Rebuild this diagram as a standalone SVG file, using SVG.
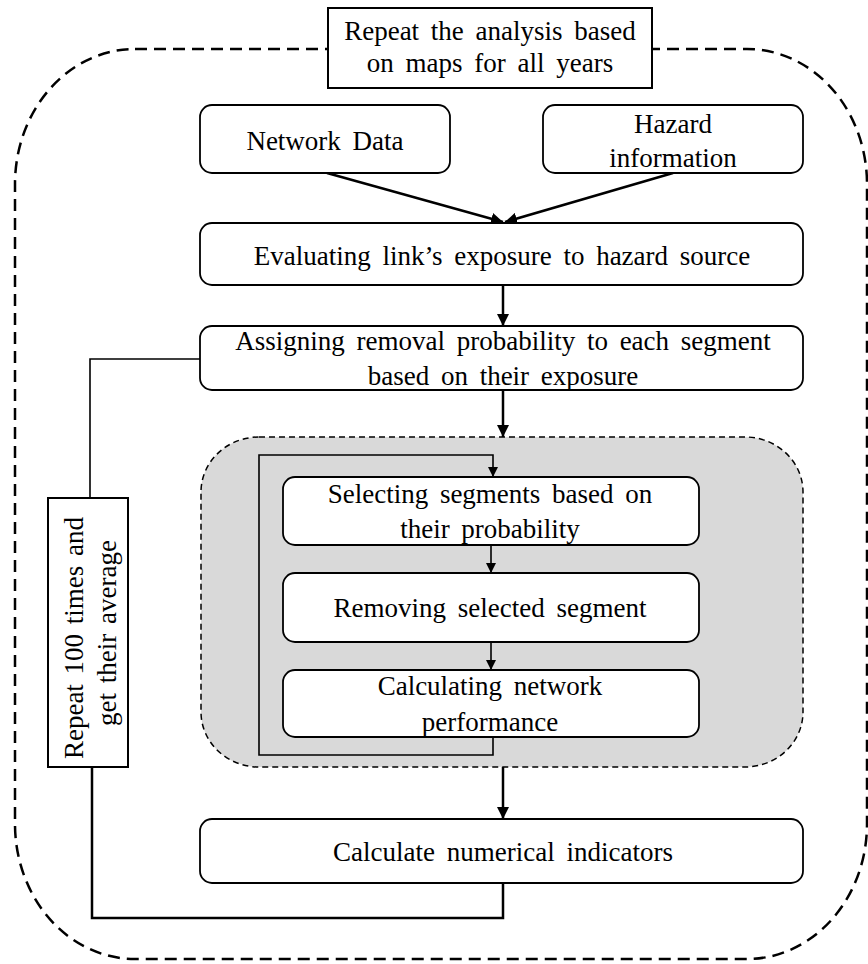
<svg xmlns="http://www.w3.org/2000/svg" width="868" height="964" viewBox="0 0 868 964">
  <style>
    .box { fill: #ffffff; stroke: #000000; stroke-width: 1.8; }
    .lbl { font-family: "Liberation Serif", "Times New Roman", serif; font-size: 27px; fill: #000000; text-anchor: middle; word-spacing: 5px; }
    .con { fill: none; stroke: #000000; stroke-width: 2.5; }
    .thin { fill: none; stroke: #000000; stroke-width: 1.6; }
  </style>
  <defs>
    <marker id="ah" markerUnits="userSpaceOnUse" markerWidth="12" markerHeight="12" refX="12" refY="6" orient="auto">
      <path d="M0,0 L12,6 L0,12 z" fill="#000000"/>
    </marker>
    <marker id="ahs" markerUnits="userSpaceOnUse" markerWidth="10" markerHeight="10" refX="10" refY="5" orient="auto">
      <path d="M0,0 L10,5 L0,10 z" fill="#000000"/>
    </marker>
  </defs>

  <g id="outer-loop">
    <rect x="15" y="49" width="852" height="910" rx="120" ry="135" fill="none" stroke="#000000" stroke-width="2.5" stroke-dasharray="12 7"/>
  </g>

  <g id="inner-loop">
    <rect x="201" y="437" width="602" height="330" rx="58" ry="55" fill="#d9d9d9" stroke="#000000" stroke-width="1.5" stroke-dasharray="6 4"/>
  </g>

  <g id="connectors">
    <line class="con" x1="327" y1="173" x2="503" y2="222" marker-end="url(#ah)"/>
    <line class="con" x1="673" y1="173" x2="505" y2="222" marker-end="url(#ah)"/>
    <line class="con" x1="503" y1="285" x2="503" y2="326" marker-end="url(#ah)"/>
    <line class="con" x1="503" y1="390" x2="503" y2="437" marker-end="url(#ah)"/>
    <path class="thin" d="M493,737 V755 H259 V455 H493 V477" marker-end="url(#ahs)"/>
    <line class="thin" x1="491" y1="545" x2="491" y2="573" marker-end="url(#ahs)"/>
    <line class="thin" x1="491" y1="642" x2="491" y2="670" marker-end="url(#ahs)"/>
    <line class="con" x1="503" y1="767" x2="503" y2="819" marker-end="url(#ah)"/>
    <path class="thin" d="M200,359 H90 V498" stroke-width="2"/>
    <path class="con" d="M503,883 V918 H92 V767"/>
  </g>

  <g id="title">
    <rect x="328" y="8" width="324" height="80" fill="#ffffff" stroke="#000000" stroke-width="2"/>
    <text class="lbl" x="490" y="40">Repeat the analysis based</text>
    <text class="lbl" x="490" y="72">on maps for all years</text>
  </g>

  <g id="network-data">
    <rect class="box" x="200" y="105" width="250" height="68" rx="12"/>
    <text class="lbl" x="325" y="150">Network Data</text>
  </g>

  <g id="hazard-information">
    <rect class="box" x="543" y="105" width="260" height="68" rx="12"/>
    <text class="lbl" x="673" y="133">Hazard</text>
    <text class="lbl" x="673" y="167">information</text>
  </g>

  <g id="evaluating">
    <rect class="box" x="200" y="223" width="603" height="62" rx="12"/>
    <text class="lbl" x="502" y="265">Evaluating link’s exposure to hazard source</text>
  </g>

  <g id="assigning">
    <rect class="box" x="200" y="326" width="603" height="64" rx="12"/>
    <text class="lbl" x="503" y="350">Assigning removal probability to each segment</text>
    <text class="lbl" x="503" y="385">based on their exposure</text>
  </g>

  <g id="selecting">
    <rect class="box" x="283" y="477" width="416" height="68" rx="12"/>
    <text class="lbl" x="490" y="503">Selecting segments based on</text>
    <text class="lbl" x="490" y="538">their probability</text>
  </g>

  <g id="removing">
    <rect class="box" x="283" y="573" width="416" height="69" rx="12"/>
    <text class="lbl" x="490" y="617">Removing selected segment</text>
  </g>

  <g id="calculating">
    <rect class="box" x="283" y="670" width="416" height="67" rx="12"/>
    <text class="lbl" x="490" y="695">Calculating network</text>
    <text class="lbl" x="490" y="731">performance</text>
  </g>

  <g id="calculate-indicators">
    <rect class="box" x="200" y="819" width="603" height="64" rx="12"/>
    <text class="lbl" x="503" y="861">Calculate numerical indicators</text>
  </g>

  <g id="repeat-100">
    <rect x="48" y="498" width="80" height="269" fill="#ffffff" stroke="#000000" stroke-width="2"/>
    <text class="lbl" transform="translate(83,638) rotate(-90)" x="0" y="0" style="word-spacing:3px">Repeat 100 times and</text>
    <text class="lbl" transform="translate(116,633) rotate(-90)" x="0" y="0" style="word-spacing:3px">get their average</text>
  </g>
</svg>
